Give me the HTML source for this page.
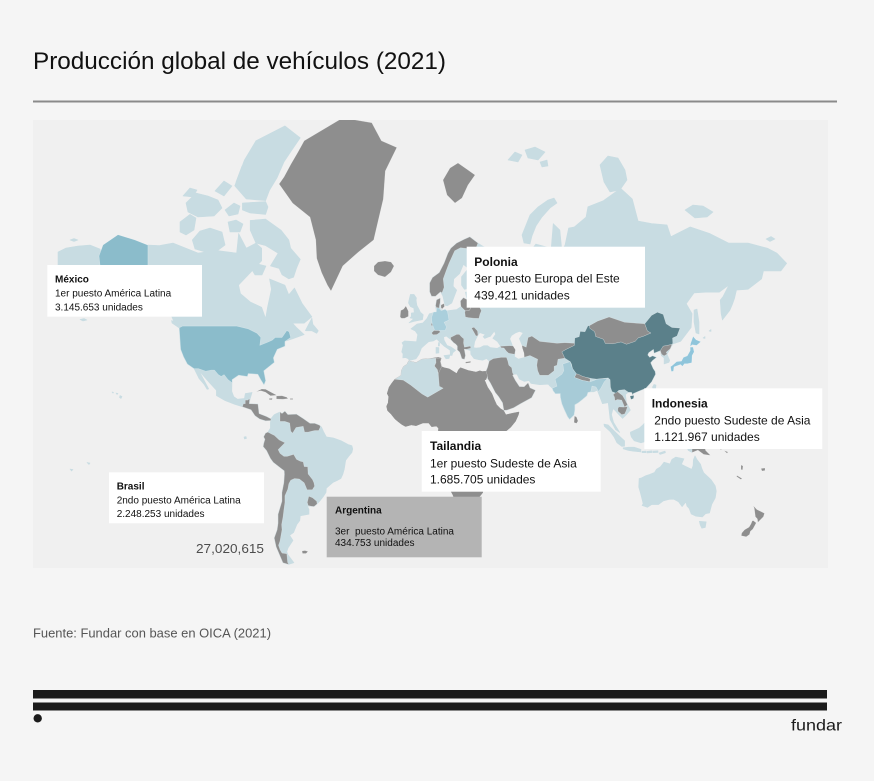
<!DOCTYPE html>
<html><head><meta charset="utf-8">
<style>
html,body{margin:0;padding:0;background:#f5f5f5;}
body{width:874px;height:781px;overflow:hidden;}
svg{display:block;}
text{font-family:"Liberation Sans",Arial,sans-serif;}
</style></head><body>
<svg width="874" height="781" viewBox="0 0 874 781" xmlns="http://www.w3.org/2000/svg">
<rect width="874" height="781" fill="#f5f5f5"/>
<text x="33" y="69" font-size="24" fill="#111" textLength="413" lengthAdjust="spacingAndGlyphs">Producción global de vehículos (2021)</text>
<rect x="33" y="100.5" width="804" height="2" fill="#8a8a8a"/>
<defs><clipPath id="mc"><rect x="33" y="120" width="795" height="448"/></clipPath></defs>
<rect x="33" y="120" width="795" height="448" fill="#f0f0f0"/>
<g clip-path="url(#mc)" stroke-linejoin="round">
<!-- LIGHT BASE -->
<g fill="#c8dce2" stroke="#c8dce2" stroke-width="0.6">
<polygon points="58,252 66,248 78,246 90,245 100,249 102,256 100,266 58,266"/>
<polygon points="70,240 74,238.5 78,240 74,241.5"/>
<polygon points="147.9,245.1 159.4,245.6 173,243 198,253 217.4,250.6 236.6,253 238.6,233.4 246.3,248.2 255.9,243.1 261.7,248.2 261.7,260.8 252.1,270.9 238.6,285.1 240.5,293.6 250.2,301.9 261.7,307.3 265.6,318.4 267.5,307.3 271.4,289.3 269.5,278.9 284.9,285.1 288.8,294.7 294.5,288 302.3,303.7 311.9,316.8 304.2,323.2 292.6,323.2 296.5,327.5 304.2,334.6 292.6,338.9 284.9,341.4 284.9,346.1 277.2,349.3 273.3,357.9 274.3,362.3 263.7,370.8 265.6,380.7 264,384.7 260.8,379.6 257.9,374.2 248.2,373.5 247.3,376.4 238.6,375.1 232,379.6 231.8,391.4 233.8,396.6 237.6,399.2 244.4,398.4 245.3,393.5 252.1,392.4 250.2,398.6 249.2,403.7 257.9,404.1 259,413.6 266.6,416.6 270.4,418.6 270.8,420.5 265.6,420.8 259.8,419 255,415.6 251.1,409.7 242.4,406.7 234.7,404.3 225.1,400.6 216.4,395.6 216.4,390.3 209.6,382.9 202.9,375.3 199,370.8 203.8,379.6 208.7,388.9 207.1,389.3 203.8,384 199,378.5 194.1,368.6 187.4,364 183.6,356.7 180.7,349.3 179.7,334.6 179.3,327.8 173.9,321.6 169.1,310.5 163.3,298.3 155.6,292.9 147.9,289.3"/>
<polygon points="265.6,219.1 281,230.1 288.8,239.9 290.7,248.2 300.3,259.3 296.5,268.4 293.6,277.2 288.8,278.9 282,274.7 279.1,268.4 270.4,265.9 278.1,253.2 265.6,245.6 255.9,243.1 250.2,230.1 250.2,220.4"/>
<polygon points="265.6,200.6 246.3,199 234.7,185.8 244.4,160 255.9,140.8 284.9,125.9 300.3,137.8 292,150 284,162 277,178 269.5,190.4"/>
<polygon points="242.4,203 265.6,201.5 268,207 265.6,214.4 250,213 242.4,210"/>
<polygon points="192.3,240 200,231 210,228 222,232 225.1,245 217.4,250.7 205,252 195,249"/>
<polygon points="180,222 190,214.4 196,218 194,230 186,235 180,232"/>
<polygon points="186,203 196,193 208,196 218,200 222,208 214,216 198,217 188,212"/>
<polygon points="183,196 190,188 197,190 193,197"/>
<polygon points="228,222 236,220 243,224 240,232 230,232"/>
<polygon points="225,210 234,203 240,206 238,214 229,216"/>
<polygon points="215,191 224,181 232,186 224,196"/>
<polygon points="236,182 242,166 250,170 248,180 241,188"/>
<polygon points="252,270 258,264 266,266 262,275 255,275"/>
<polygon points="305.3,330.6 311.9,318 312.9,324.3 318.3,330.8 316.7,333.3 311.9,330.8 306.1,330.8"/>
<polygon points="171.5,320.5 176,322 182,327.5 180,328.5 172,323"/>
<polygon points="508,160 515,152 522,155 518,162"/>
<polygon points="525,150 535,147 545,152 538,160 528,158"/>
<polygon points="540,162 547,160 548,166 542,167"/>
<polygon points="554,198 548,200 538,207 530,215 526,225 522,235 524,243 530,244 532,236 536,226 542,217 550,208 557,203"/>
<polygon points="600,165 608,156 618,158 625,170 627,180 620,190 610,192 604,182"/>
<polygon points="685,210 693,205 703,206 713,212 707,217 695,218"/>
<polygon points="766,239 771,236.5 775,239 770,241.5"/>
<polygon points="469.8,236.9 477.9,243.1 483.7,246.7 499.1,254.7 493.3,263.3 487.6,270.9 497.2,270.9 504.9,260.8 504.9,250.7 522.3,250.7 531.9,249.2 535.8,244.1 551.2,248.2 553.2,223.6 559.9,230.1 561.9,250.7 565,245 568.6,228.1 574.4,226.9 586,217.1 587.9,206.8 603.4,200.6 620.7,188.3 632.3,199 638.1,221 651.6,223.6 667,224.9 670.9,236.6 690.2,226.9 709.5,233.4 728.8,243.1 748.1,243.1 767.4,248.2 777,253.2 786.7,263.3 780.9,270.9 763.5,270.9 761.6,278.9 748.1,289.3 736.5,290.1 734.6,298.3 732.7,303.7 729.8,310.5 725.9,315.4 722.4,320 721.1,313.7 720.2,300.1 723,296.5 728.8,285.1 719.2,292.2 705.6,292.2 694.1,292.9 686.3,303.7 692.1,313.7 691.2,327.5 680.6,341.4 672.8,344 670.5,348.1 667,354.3 669.7,360.4 669,362.3 664.1,364 664.1,357.9 661.3,355.5 660.3,350.6 654.1,353.1 653.5,349.3 648.7,352.6 647.7,355 649.7,357.4 652.6,355.9 656.4,357.4 652.6,360.4 650.6,362.8 653.1,368.5 655.1,371.5 655.5,374.2 651.6,381.8 645.8,388.2 639.1,391 633.3,393.5 632.7,395 631.7,392.4 628.4,392.2 625.5,394.5 626.5,402.7 630.4,410.1 626.5,414.6 622.6,418.4 618.8,414.6 614.9,410.3 613,408.7 611.5,414.6 613.6,422.4 619.8,432.5 615.5,429.6 610.1,419.5 608.2,402.7 602.4,403.7 599.5,396 598.1,392.4 597.2,390.3 593.7,391.8 590.8,391.8 587.9,392.4 586.9,395.6 582.1,399.7 578.3,402.7 574.8,404.7 574.8,409.7 574,415 569.6,419.3 567.6,416.6 564.4,409.7 561.9,403.7 560.5,397.6 560.3,393.5 555.5,393.7 553.2,390.8 552.2,388.2 549.3,385.5 548.3,384.2 539.7,384.7 531,383.4 529,380.6 524.2,381.4 519.4,379.1 517,374.2 513.6,374.2 512.6,375.3 515.5,380.7 519.4,386.6 524.2,386.8 528.1,382.9 530,387.9 535.4,390.3 531.6,397.6 520.4,403.7 513.6,407.7 506.9,410.1 503.9,410.3 502.6,402.7 498.7,396.6 495.3,392.4 490.4,382.9 487.6,378.5 487.4,375.3 486,371.3 487.6,367.4 489.3,361 486.6,358.6 482.7,360.2 478.9,359.7 474,358.6 470.8,354.3 470.6,350.6 466.3,349.3 464.2,349 465.4,355.5 464.4,359.2 461.9,358.6 460.5,354.3 459.6,351.9 457.4,349.9 457.4,346 455.7,344 453.8,342.7 450.9,339.6 446.4,336.1 443.7,336.9 444.1,340.1 447,345.4 450.9,346.9 455.7,350.3 452.8,352.8 452,355.5 450.3,355.5 450.1,350.3 444.1,346.1 440.3,342.7 436.8,339 433.5,340.9 428.7,341.7 426,344 421.5,348 420,351.9 419,354.5 416,358.8 409.6,360.4 407.8,358.6 405.5,357.6 402.8,358 403,353.8 401.7,352 403.2,345.2 402,342.7 404.6,340.9 416.5,341.7 417.7,334.6 415.2,331 410.9,328.9 416.9,324.1 422.9,322.9 426.8,318.7 429.3,313.8 436.4,311.9 435.6,305.7 436.6,299.9 440.3,298.1 440.1,302.6 440.3,309.5 447,310.8 456.7,309.5 461.1,306.6 460.5,301 463.4,297.8 466.9,299.5 465.4,292.2 474,291.1 477.9,289.3 475,287.2 464.4,289.3 461.5,285.1 461.5,276.8 468.3,268.4 463.4,264.4 459.6,273.6 453.8,278.9 453.2,286.3 456.7,290.1 451.8,303 447.4,305.8 444.9,305.3 442.8,295.9 440.5,291.8 435.4,296.2 431.6,296.2 429.7,291.8 429.7,283 432.5,277.6 439.3,272.6 444.1,263.3 448,253.2 450.9,248.2 456.7,243.1 464.4,239.3"/>
<polygon points="409,322.9 414.2,321.3 422.5,319.7 423.3,314.7 420.4,312.2 419,309.1 416.9,305.4 416.1,300.1 416.5,298.1 414,294.4 410.4,294.4 409.4,298.3 408.4,302.9 410.4,306.6 413.8,308.1 414.2,312.5 411.3,313.1 411.3,316.4 410,317.9 413.6,318.7"/>
<polygon points="443.9,355.6 450,354.8 449,358.5 446,358.8"/>
<polygon points="436,347.4 438.9,347.6 438.9,353 436,353.3"/>
<polygon points="438.5,342.5 439.5,342.7 439.5,346 438.3,346"/>
<polygon points="694,310 697,309 699,322 699,334 696,333 694,322"/>
<polygon points="654,384.4 656,385 655.5,390 653.5,391.5 652.5,387"/>
<polygon points="271,418.6 274.3,414.6 276.2,413.6 280,412 282,413.6 284.9,411.2 287.8,414.6 292.6,414.4 296.5,414.2 303.2,418.6 307.1,421.4 310,423.4 314.8,423.4 319.6,425.3 321.6,427.2 323.5,431.5 326.4,436.9 333.2,437.9 340.9,440.6 348.2,444.5 351.9,445.7 352.8,449 351.9,452.5 348.6,456.4 345.7,460.3 344.3,469.3 342.8,474.4 340.9,478.5 337,480.6 333.2,482.3 326.4,488.2 326,492.5 323.1,496.9 319.6,501.3 317.1,503.9 314,506.5 311.5,506.3 307.3,506 309,509.2 309,514.2 300.3,515.8 299.8,520.6 296.9,524.4 293.6,532.5 289.7,535.3 293,540.4 288.2,547.7 286.8,551.7 287.8,554.5 293.9,562.7 288.8,564.4 283,562.7 276.2,546.8 274.3,538 277.2,529.8 278.1,523.3 278.1,514.4 282,501.3 282,492.5 283.9,482.8 284.5,474.4 284.3,470.8 281,468.3 273.3,462.3 270.4,458.3 266.6,450.5 263.3,446.6 263.7,443.7 265,439.3 263.7,436.9 265.6,433.1 267.9,432.1 270.4,428.2 270.4,422.4"/>
<polygon points="603.9,424.1 608.2,424.9 614,430.7 620.3,436.9 624.6,440.8 624.6,446.2 621.7,446.4 616.9,442.8 614,436.9 610.1,431.5 604.3,426.3"/>
<polygon points="623.1,447.8 628.4,447.2 634.2,447.2 641,449.4 640.8,452 634.2,451.3 628.4,450.5 623.2,448.8"/>
<polygon points="642,451.3 646,451 646,452.7 642,452.7"/>
<polygon points="647,451.3 652,450.8 652,452.6 647,453"/>
<polygon points="653,451.1 658,450.8 658,452.5 653,452.7"/>
<polygon points="659,453 665,451 665.5,452.7 660,454.5"/>
<polygon points="630.4,432.1 639.1,428.2 642.9,424.9 645.8,421.4 650,424.7 647.4,432.7 644.5,441.8 641,442.8 634.2,440.8 631.3,436.9 630.4,434"/>
<polygon points="650.6,445.6 649.3,440.4 651.1,434 661,432.1 661,433.3 653,434.5 654.5,436.9 658,437 655,438.5 656.4,444.3 654,444.5 652.6,445.8"/>
<polygon points="651.6,398.4 655,398.2 656.4,401 655,405 657,408 655,408.5 652.5,405 651,402"/>
<polygon points="657,416 661,416.5 664,418 663.5,423 660,424 658,421 655.5,420.5"/>
<polygon points="655,410 660,410.5 662,414 658,414.5 655,412.5"/>
<polygon points="672.8,437.5 678.6,436.7 686.3,438.1 692.1,440.1 692.1,452.5 688.3,450.5 686,445.3 679.6,442.8"/>
<polygon points="639.1,478.5 638.7,487 640.3,492.5 642,499.2 643.1,503.7 642,505.5 647.4,507.4 651.6,504.6 658.4,504.6 663.2,501 669,499.4 673.8,499.2 678.6,501.9 682.1,506.7 685.9,502.1 686.9,506 689.2,508.5 691.2,514 696,516.2 702.4,516.9 705.6,513.7 709.5,513 711.8,504.4 715.3,497.9 716.3,491.2 715.3,485.9 711,479.6 703.7,472.7 701.8,468.4 700.6,464.3 696.9,459.4 695,455.8 693.3,460 693.1,465.3 691.7,469.3 685.4,466.3 681.5,464.3 684,458.8 675.7,457.1 671.9,459.4 670,463.9 664.1,462.1 660.3,466.9 656.4,469.3 654.5,472.4 649.7,474.4 645.8,475.6 641,478.1"/>
<polygon points="699.3,521.3 706.2,521.8 705.3,527.5 701.8,528.2 700.2,524.9"/>
<polygon points="120,395.5 122,396.5 121,398.5 119.5,397.5"/>
<polygon points="116,393 118,393.5 117,394.5"/>
<polygon points="112,392 113.5,392.3 113,393.2"/>
<polygon points="87,462.5 90,463 89,464.5"/>
<polygon points="70,469 73,469.5 71.5,471"/>
<polygon points="244,437 246,436.5 246.5,438.5 244.5,439"/>
<polygon points="80,319.5 84,318.5 87,320 83,321"/>
<polygon points="703,338 705,336.5 705,338.5"/>
<polygon points="709,331 711,329.5 711,331.5"/>
</g>
<!-- AFRICA (gray base) -->
<g fill="#8e8e8e" stroke="#8e8e8e" stroke-width="0.5">
<polygon points="408.6,360.9 416.1,362.6 421.9,359.2 429.7,358.6 438.3,357.4 441.2,358.1 440.3,361.6 441.6,366.7 444.1,367.7 449.3,368.9 456.7,373.5 458.6,369.6 460.5,367.7 468.3,370.5 476,372.1 479.8,370.8 482.3,371.5 486,371.3 487.4,375.3 486,379.5 484.5,380 487.6,387.2 491.8,393.5 494.3,399.7 496.6,404.7 500.5,408.7 503.5,410.5 505.9,414.8 512.6,413.2 519,412 518.4,414.8 515.5,421.3 510.7,427.2 504.9,432.1 500.1,438.3 497.2,440.8 495.3,444.7 495.8,451.5 498.2,455.4 498.4,462.3 493.3,468.9 488.5,478.5 488.5,482.8 483.3,487 482.7,492.7 477.9,498.6 472.1,503.9 468.3,504.8 458.6,506.7 455.5,505.4 455.1,500.3 452.8,494.7 449.3,488.2 448,479.6 442.8,468.9 444.1,461.3 445.5,452.4 443.7,446.7 441.6,442.4 438,437 438.3,433.1 438.5,428.2 436.4,426.1 431.6,426.7 428.7,423 422.9,423 416.1,425.7 411.3,424.9 405.5,426.5 401.7,424.4 397.8,421.4 394.9,418.9 391.1,414.1 387.6,410.7 386.6,406.3 388.2,402.7 388.7,396.6 387.2,393.5 389.1,387.2 392,382.9 394.9,379.2 401.1,375.3 401.3,370.8 403.6,366.4 406.9,364.4"/>
<polygon points="515.1,458.3 517.5,465.3 510.9,484.5 507.2,485.9 504.3,478.5 505.7,467.3 509.7,465.7 512.6,461.3"/>
</g>
<polygon fill="#c8dce2" stroke="#ffffff" stroke-opacity="0.5" stroke-width="0.4" points="408.6,360.9 416.1,362.6 421.9,359.2 429.7,358.6 435.8,358.3 436,362.8 434.5,366 437.4,369.6 438.3,373.7 439.3,386.2 443.2,388.2 427.7,397.2 421.9,393.9 410.7,385.1 403.2,380.1 394.9,379.2 401.1,375.3 401.3,370.8 403.6,366.4 406.9,364.4"/>
<!-- GRAY OVERLAYS -->
<g fill="#8e8e8e" stroke="#ffffff" stroke-opacity="0.45" stroke-width="0.4">
<polygon points="279.1,184 284,177 291,164 298,152 304.2,140.8 342.8,117.8 371.8,122.8 381.4,140.8 396.8,147.5 385.3,171 383.3,199 377.5,223.6 373.7,239.9 358.2,252.2 342.8,265.9 331,291 327.4,285.1 321.6,272.6 316.7,258.3 315.8,239.9 310,217.1 292.6,203.1"/>
<polygon points="374,266 378,262 385,261 391,262 394,266 391,272 385,277 378,275 374,271"/>
<polygon points="443,180 450,168 458,163 468,170 475,175 468,185 462,198 455,203 447,195"/>
<polygon points="408.4,316.4 408.4,311.2 405.9,306 403.6,309.1 400.7,310.5 400.1,317 401.7,318.4 404.6,318.2"/>
<polygon points="442,292.9 440.5,291.8 435.4,296.2 431.6,296.2 429.7,291.8 429.7,283 432.5,277.6 439.3,272.6 444.1,263.3 448,253.2 450.9,248.2 456.7,243.1 464.4,239.3 469.8,236.9 477.9,243.1 476,248.2 469.2,248.7 460.5,247.7 454.7,250.7 449,263.3 446.1,270.9 443.2,278.9 444.1,287.2"/>
<polygon points="435.6,305.7 436.6,299.9 440.3,298.1 440.1,302.6 439.5,305 439.1,308.1 436.6,307.7"/>
<polygon points="441,305 444,303.5 444.5,306.5 442,309 441,307.5"/>
<polygon points="460.7,305 460.5,301 463.4,297.8 466.9,299.5 467.1,297.1 472.7,298.1 474.4,303 471.3,305 469.8,310.1 465.4,310.8 464,309.5 461.1,306.6"/>
<polygon points="465.4,317 464.8,312.2 465.4,310.8 469.8,310.1 471.3,305 475,304 479,306 481.4,310.8 480,314 478.9,318.4 474,318.2 468.3,317.6"/>
<polygon points="431.2,323.5 432.6,323.2 432.8,325.5 431.4,325.8"/>
<polygon points="431.6,333 434,330.5 439,330.5 440.3,332 437,334.5 433,334.8"/>
<polygon points="471.5,328 474,327.3 477.5,331 478,335.5 476,336 473.5,331.5"/>
<polygon points="450.5,337.5 456.7,334.4 459.2,334.4 461.5,336.9 463.8,338.9 463.5,343 464.4,347.2 470.4,346.1 470.8,348.1 466.3,349.3 464.2,349 465.4,355.5 464.4,359.2 461.9,358.6 460.5,354.3 459.6,351.9 457.4,349.9 457.4,346 455.7,344 453.8,342.7 450.9,339.6"/>
<polygon points="465.4,362 470.8,361.3 470.5,362.6 465.8,363.2"/>
<polygon points="435.8,358.3 441.2,358.1 440.3,361.6 441.6,366.7 438.3,373.7 437.4,369.6 434.5,366 436,362.8"/>
<polygon points="500.3,346.3 509.7,345.7 513.6,346 515.5,349.9 514.6,354.3 508.8,353.3 506.5,351.3 504,348 501.1,347.7"/>
<polygon points="486,371.3 487.6,367.4 489.3,361 493.3,358.6 501.1,357.4 506.5,357.4 507.8,361 508.8,365.2 511.7,367.7 512.6,373.1 513.6,374.2 512.6,375.3 515.5,380.7 519.4,386.6 524.2,386.8 528.1,382.9 530,387.9 535.4,390.3 531.6,397.6 520.4,403.7 513.6,407.7 506.9,410.1 503.9,410.3 502.6,402.7 498.7,396.6 495.3,392.4 490.4,382.9 487.6,378.5 487.4,375.3"/>
<polygon points="521.9,345.4 526.2,347.2 528.1,337.5 531.9,336.1 539.7,341.4 557,343.3 564.8,342.7 574.4,343.3 574.4,345.4 565.7,349.6 561.9,351.9 564.8,358.1 558,359.2 557,365.2 554.1,366.3 554.1,370.8 548.3,375.3 539.7,375.3 537.7,370.8 536.8,365.2 537.7,359.2 530,355.5 524.2,357.2 524,353.3 522.3,348"/>
<polygon points="589.5,325.6 597.6,321.1 609.1,317 624.6,322.3 644.8,323.8 647.4,330.9 651,333 643.9,336.1 638.1,338 635.2,341.4 626.5,344.3 621,342 613,343.8 605.3,343.5 603.4,339.3 595.6,336.5 594.7,331.8 589.8,328.3"/>
<polygon points="660.3,350.6 663.2,346.1 667,345.4 672,344.3 670.3,348.6 666.1,352.3 667.1,354 664.1,355.9 661.6,354.3"/>
<polygon points="574.4,377.4 582.1,380.3 589.8,381.8 590.2,378.7 585.9,377.3 582.1,376.1 578.3,374.2 576.3,373.8"/>
<polygon points="613.2,394.7 616.9,391.2 619.5,393.2 622.5,395.5 625.5,400.6 627.5,404.7 624.6,407.1 622.5,402 621.7,400.1 617.5,399.5 614.9,400.6 614.5,397"/>
<polygon points="617.8,408.7 618.8,406.9 623.6,407.1 627.5,406.7 626,411 624.6,414 621.7,414.6 618,411.3"/>
<polygon points="574.5,416 576.5,417 578,421 576.5,423.4 574,422.5"/>
<polygon points="242.4,406.7 243.4,403.7 245.3,403.7 245.3,400.1 247.8,400.1 249.6,398.6 249.2,403.7 257.9,404.1 259,413.6 266.6,416.6 270.4,418.6 271,418.6 270.8,420.5 265.6,420.8 259.8,419 255,415.6 251.1,409.7"/>
<polygon points="256,391.8 261.7,389 265.6,389.2 271.4,392.4 276.8,395.2 270.4,395.8 265.6,392.2 260.8,390.7"/>
<polygon points="276.4,396 282,395.8 286.8,397.2 288,398.6 283,399.2 276.4,399"/>
<polygon points="269,398.5 272.5,398.3 272,399.8 269.2,399.6"/>
<polygon points="290,398.5 293,398.5 293,399.5 290,399.5"/>
<polygon points="280,412 282,413.6 284.9,411.2 287.8,414.6 292.6,414.4 296.5,414.2 303.2,418.6 307.1,421.4 310,423.4 314.8,423.4 319.6,425.3 320.4,426.8 318.7,430.5 314.8,430.5 311.9,431.1 308.1,432.1 304.6,432.1 303.2,426.3 296,427.5 292.6,433.1 290.7,431.1 289.7,423 284.9,421.4 280,421.4"/>
<polygon points="265,439.3 263.7,436.9 265.6,433.1 267.9,432.1 271.4,434 274.3,435.4 279.1,439.9 284.9,442.8 278.1,449.6 280,453.4 283.9,456.4 287.2,456.4 293.6,454.4 296.5,459.4 300.3,461.3 303.2,461.9 304.2,466.6 307.7,466.8 308.1,474 312.5,479.6 313.9,482.8 314.6,486.1 312.3,489.8 307.1,489.8 304.2,482.8 299.4,479 294.5,478.5 290.7,480.2 288.8,483.8 287.8,489.1 284.9,495.8 284.9,502.4 283.9,509.6 283,517 281.6,524.6 282,529.8 281,535.3 280,541 278.5,545.3 280,549.8 282,553.1 286.8,553.7 287.6,562.4 288.8,564.4 283,562.7 276.2,546.8 274.3,538 277.2,529.8 278.1,523.3 278.1,514.4 282,501.3 282,492.5 283.9,482.8 284.5,474.4 284.3,470.8 281,468.3 273.3,462.3 270.4,458.3 266.6,450.5 263.3,446.6 263.7,443.7"/>
<polygon points="308.8,496.3 312.5,497.7 316.7,501.3 317.1,503.9 314,506.5 311.5,506.3 308.2,505.5 307.3,502.4"/>
<polygon points="302,551 305,550.5 308,551.5 306,553.5 302.5,553.5"/>
<polygon points="692.1,440.1 699.9,443.7 704.8,446.6 705.6,450.5 710.5,455.4 703.7,454.4 697.9,450.1 692.1,452.5"/>
<polygon points="707.6,445.5 713.4,444.7 713,446.5 708,447.6"/>
<polygon points="718,447 722,448.5 721,449.8"/>
<polygon points="724,450.5 728,452 727,453.3"/>
<polygon points="741,465 743,466 742.5,470 741,469.5"/>
<polygon points="737,475.5 742,478.5 741,479.5 736.5,476.5"/>
<polygon points="761,468.5 765,468 765,470.5 762,471"/>
<polygon points="753.3,505.8 756.8,509.5 764.5,513.3 763.4,516.7 757.8,522.4 757.4,518.9 755.4,516.7 754.3,508.4"/>
<polygon points="753.3,520.6 756.2,522.9 752.9,529 750.4,531.2 749.5,534.5 746.2,536.8 741.3,535.8 741.7,533.1 744.6,529.8 749.1,527.1 751,523.9 752.2,520.9"/>
</g>
<!-- COLORED -->
<g stroke="#ffffff" stroke-opacity="0.5" stroke-width="0.4">
<polygon fill="#8bbccb" points="147.9,245.1 135,240 118,234.7 103,245 99,256 100,265 109.3,270.5 102.5,274.7 101.6,281 107.3,289.3 115.1,294.7 107.3,305.5 118.9,300.1 126.6,294.7 130.5,291.1 138.2,286 147.9,289.3 155.6,292.9 163.3,298.3 169.1,307.3 166,302 158,292 147.9,287"/>
<polygon fill="#8bbccb" points="182.6,326.1 236.7,326.1 248.2,328.9 256.9,333.2 260.8,337.5 259.8,345.4 267.5,342.3 272.4,340.1 275.3,337.5 282,337.5 286.8,330.6 289.1,331.8 290.7,337.5 284.9,341.4 284.9,346.1 277.2,349.3 273.3,357.9 274.3,362.3 263.7,370.8 265.6,380.7 264,384.7 260.8,379.6 257.9,374.2 248.2,373.5 247.3,376.4 238.6,375.1 232,379.6 232.4,382.9 228,379.6 224.1,374.6 221.2,376.4 218.3,374.6 214.5,370.1 211.2,370.1 205.8,371.2 198.4,368.6 194.1,368.6 187.4,364 183.6,356.7 180.7,349.3 179.7,334.6 179.3,327.8"/>
<polygon fill="#5b808a" points="587.9,325.9 589.5,325.6 589.8,328.3 594.7,331.8 595.6,336.5 603.4,339.3 605.3,343.5 613,343.8 621,342 626.5,344.3 635.2,341.4 638.1,338 643.9,336.1 651,333 647.4,330.9 644.8,323.8 651.6,315.4 657.4,312.2 663.2,314.4 666.1,323.8 671.9,327.5 680,328.1 677,336 672.5,338 672.8,343.3 672,344.3 667,345.4 663.2,346.1 660.3,350.6 654.1,353.1 653.5,349.3 648.7,352.6 647.7,355 649.7,357.4 652.6,355.9 656.4,357.4 652.6,360.4 650.6,362.8 653.1,368.5 655.1,371.5 655.5,374.2 651.6,381.8 645.8,388.2 639.1,391 633.3,393.5 632.7,395 631.7,392.4 628.4,392.2 624.6,389.6 618.8,390.3 615.9,393.1 612,391.6 610.5,387.2 610.1,379.6 608.2,377.9 596.6,379.1 591.8,378.5 585.9,377.3 582.1,376.1 578.3,374.2 576.3,373.8 572.5,368.5 571.5,364 570.2,361.6 564.8,358.1 561.9,351.9 565.7,349.6 574.4,345.4 574.8,338 579.2,336.7 580.2,331.4 585,331.8"/>
<polygon fill="#5b808a" points="630,396 634,395.4 633.5,398.5 631,399.5"/>
<polygon fill="#a7cbd7" points="552.2,388.2 557,386.2 555.1,379.1 561.9,374.2 563.8,370.8 562.8,364 570.2,361.6 572.5,368.5 576.3,373.8 574.4,377.4 582.1,380.3 589.8,381.8 591.8,381.2 597.6,379.1 607.6,378.5 604.3,381.8 601,388 598.5,391.4 596,387 592,386 590.8,391.8 587.9,392.4 586.9,395.6 582.1,399.7 578.3,402.7 574.8,404.7 574.8,409.7 574,415 569.6,419.3 567.6,416.6 564.4,409.7 561.9,403.7 560.5,397.6 560.3,393.5 555.5,393.7 553.2,390.8"/>
<polygon fill="#8fc5db" points="693.1,347.1 694.1,351.9 692.1,355.5 691.9,360.4 691.7,362.8 687.3,363.7 684.4,363.7 682.5,366.3 680.6,364.5 674,366.9 673.4,371.3 671.3,371.5 670.5,366.7 672.6,365.2 676.7,361.6 681.5,361.1 683.4,357.4 687.3,355.9 690.2,350.6 690.2,347.1"/>
<polygon fill="#8fc5db" points="690.2,346.6 690.6,343.4 693.1,336.4 696,339.7 700.8,341.7 696.6,345.4 692.1,344.7"/>
<polygon fill="#aacfdc" points="433.5,311.9 436.4,311.9 437,307.7 439.1,308.1 441.2,310.8 445.1,309.1 447.4,311.2 448.2,315.4 449,320 444.1,322.3 446.6,327 445.1,330.5 440.3,330.5 434.7,330.3 432.4,324.7 431.8,321 431.6,317.3"/>
</g>
<!-- WATER -->
<g fill="#f0f0f0">
<polygon points="474,347.4 475,341.7 477.3,337 479.8,333 484.7,334.6 482.7,336.7 484.7,338.9 488.5,337.3 490.4,336.7 494.3,331.8 495.3,334.1 492.4,338.4 497.2,341.7 500.3,346.3 497.2,348 490.4,347.2 487.6,345.4 483.7,345.4 479.8,347.4 476,347.7"/>
<polygon points="510.1,338.9 511.7,335.7 515.5,333.2 519.4,331.8 522.7,333 519,338.6 521.9,345.4 522.3,348 524,353.3 524.2,357.2 518.4,358.8 514.8,356.5 515.5,349.9 512.6,345.4 511.7,342.7"/>
</g>
</g>
<!-- LABEL BOXES -->
<rect x="47.3" y="265" width="154.7" height="51.7" fill="#ffffff"/>
<text x="55" y="282.6" font-size="10" font-weight="bold" fill="#111">México</text>
<text x="55" y="296.3" font-size="10" fill="#111">1er puesto América Latina</text>
<text x="55" y="310.3" font-size="10" fill="#111">3.145.653 unidades</text>

<rect x="109" y="472.3" width="155" height="51" fill="#ffffff"/>
<text x="116.7" y="489.3" font-size="10" font-weight="bold" fill="#111">Brasil</text>
<text x="116.7" y="503.6" font-size="10" fill="#111">2ndo puesto América Latina</text>
<text x="116.7" y="517" font-size="10" fill="#111">2.248.253 unidades</text>

<rect x="326.7" y="496.7" width="155" height="60.6" fill="#b4b4b4"/>
<text x="335" y="513.6" font-size="10" font-weight="bold" fill="#111">Argentina</text>
<text x="335" y="534.6" font-size="10" fill="#111" xml:space="preserve">3er  puesto América Latina</text>
<text x="335" y="545.9" font-size="10" fill="#111">434.753 unidades</text>

<text x="196" y="553" font-size="13" fill="#4d4d4d" textLength="68" lengthAdjust="spacingAndGlyphs">27,020,615</text>

<rect x="466.7" y="246.7" width="178.3" height="61" fill="#ffffff"/>
<text x="474.3" y="266" font-size="12" font-weight="bold" fill="#111">Polonia</text>
<text x="474.3" y="282.6" font-size="12" fill="#111">3er puesto Europa del Este</text>
<text x="474.3" y="299.3" font-size="12" fill="#111">439.421 unidades</text>

<rect x="421.7" y="431" width="179" height="60.7" fill="#ffffff"/>
<text x="430" y="450" font-size="12" font-weight="bold" fill="#111">Tailandia</text>
<text x="430" y="467.3" font-size="12" fill="#111">1er puesto Sudeste de Asia</text>
<text x="430" y="483.6" font-size="12" fill="#111">1.685.705 unidades</text>

<rect x="644.3" y="388.3" width="178" height="60.7" fill="#ffffff"/>
<text x="651.7" y="407.6" font-size="12" font-weight="bold" fill="#111">Indonesia</text>
<text x="654.3" y="424.3" font-size="12" fill="#111">2ndo puesto Sudeste de Asia</text>
<text x="654.3" y="441" font-size="12" fill="#111">1.121.967 unidades</text>

<!-- FOOTER -->
<text x="33" y="637.7" font-size="13" fill="#555" textLength="238" lengthAdjust="spacingAndGlyphs">Fuente: Fundar con base en OICA (2021)</text>
<rect x="33" y="690" width="794" height="8.5" fill="#1b1b1b"/>
<rect x="33" y="702.5" width="794" height="8" fill="#1b1b1b"/>
<circle cx="37.7" cy="718.3" r="4.2" fill="#1b1b1b"/>
<text x="791" y="730.7" font-size="16" fill="#1b1b1b" textLength="51" lengthAdjust="spacingAndGlyphs">fundar</text>
</svg>
</body></html>
